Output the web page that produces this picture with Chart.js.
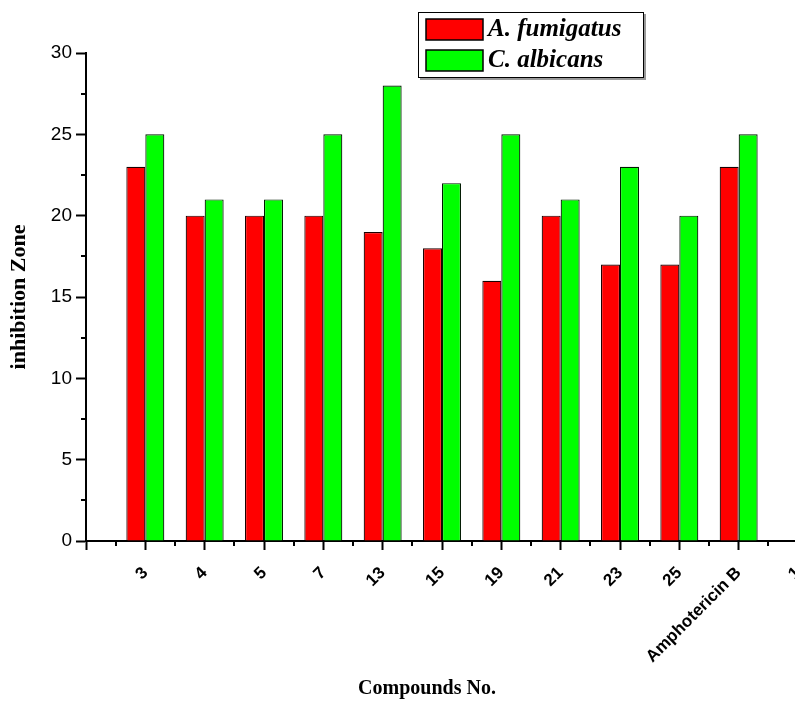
<!DOCTYPE html>
<html>
<head>
<meta charset="utf-8">
<script src="https://cdn.jsdelivr.net/npm/chart.js@4"></script>
<style>
body { margin: 0; overflow: hidden; background: #fff; }
#wrap { width: 812px; height: 708px; }
</style>
</head>
<body>
<div id="wrap"><canvas id="chart"></canvas></div>
<script>
// compounds on the x axis (first and last slots are empty end positions)
const compounds = ['', '3', '4', '5', '7', '13', '15', '19', '21', '23', '25', 'Amphotericin B', '1'];
const fumigatus = [null, 23, 20, 20, 20, 19, 18, 16, 20, 17, 17, 23, null];
const albicans = [null, 25, 21, 21, 25, 28, 22, 25, 21, 23, 20, 25, null];
const seriesNames = ['A. fumigatus', 'C. albicans'];
const seriesColors = ['#ff0000', '#00ff00'];

const extras = {
  id: 'extras',
  afterDraw(chart) {
    const ctx = chart.ctx;
    const x = chart.scales.x, y = chart.scales.y;
    ctx.save();
    // minor ticks
    ctx.strokeStyle = '#000';
    ctx.lineWidth = 2;
    ctx.beginPath();
    for (let i = 0; i < compounds.length - 1; i++) {
      const px = Math.round((x.getPixelForValue(i) + x.getPixelForValue(i + 1)) / 2);
      ctx.moveTo(px, y.bottom);
      ctx.lineTo(px, y.bottom + 5);
    }
    for (let v = 2.5; v < 30; v += 5) {
      const py = Math.round(y.getPixelForValue(v));
      ctx.moveTo(x.left, py);
      ctx.lineTo(x.left - 5, py);
    }
    ctx.stroke();

    // legend box
    ctx.fillStyle = '#999';
    ctx.fillRect(420, 14, 226, 66);
    ctx.fillStyle = '#fff';
    ctx.fillRect(418, 12, 226, 66);
    ctx.lineWidth = 1;
    ctx.strokeRect(418.5, 12.5, 225, 65);
    ctx.font = 'italic bold 25px "Liberation Serif", "Times New Roman", serif';
    ctx.textBaseline = 'middle';
    seriesNames.forEach((name, i) => {
      const top = 19 + i * 31;
      ctx.fillStyle = seriesColors[i];
      ctx.fillRect(426, top, 57, 21);
      ctx.lineWidth = 1.5;
      ctx.strokeStyle = '#000';
      ctx.strokeRect(426, top, 57, 21);
      ctx.fillStyle = '#000';
      ctx.fillText(name, 488, top + 11);
    });

    // x axis title
    ctx.font = 'bold 20px "Liberation Serif", "Times New Roman", serif';
    ctx.textAlign = 'center';
    ctx.fillText('Compounds No.', 427, 689);
    ctx.restore();
  }
};

new Chart(document.getElementById('chart'), {
  type: 'bar',
  data: {
    labels: compounds,
    datasets: [
      { label: seriesNames[0], data: fumigatus, backgroundColor: seriesColors[0], borderColor: '#1a0000', borderWidth: 1.2 },
      { label: seriesNames[1], data: albicans, backgroundColor: seriesColors[1], borderColor: '#001a00', borderWidth: 1.2 }
    ]
  },
  options: {
    responsive: true,
    maintainAspectRatio: false,
    animation: false,
    layout: { padding: { left: 0, top: 53, right: 14, bottom: 0 } },
    datasets: { bar: { categoryPercentage: 0.64, barPercentage: 1 } },
    plugins: { legend: { display: false }, tooltip: { enabled: false } },
    scales: {
      x: {
        offset: false,
        afterFit: s => { s.height = 167; s.paddingLeft = 0; s.paddingRight = 0; },
        grid: { offset: false, drawOnChartArea: false, tickLength: 9, tickColor: '#000', tickWidth: 2 },
        border: { display: true, color: '#000', width: 2 },
        ticks: {
          autoSkip: false, maxRotation: 45, minRotation: 45, padding: 13, color: '#000',
          font: { family: '"Liberation Sans", Arial, sans-serif', size: 17, weight: 'bold' }
        }
      },
      y: {
        min: 0,
        max: 30,
        afterFit: s => { s.width = 86; },
        grid: { drawOnChartArea: false, tickLength: 10, tickColor: '#000', tickWidth: 2 },
        border: { display: true, color: '#000', width: 2 },
        ticks: {
          stepSize: 5, padding: 4, color: '#000',
          font: { family: '"Liberation Sans", Arial, sans-serif', size: 19 }
        },
        title: {
          display: true, text: 'inhibition Zone', color: '#000', padding: { top: 6, bottom: 0 },
          font: { family: '"Liberation Serif", "Times New Roman", serif', size: 22, weight: 'bold' }
        }
      }
    }
  },
  plugins: [extras]
});
</script>
</body>
</html>
